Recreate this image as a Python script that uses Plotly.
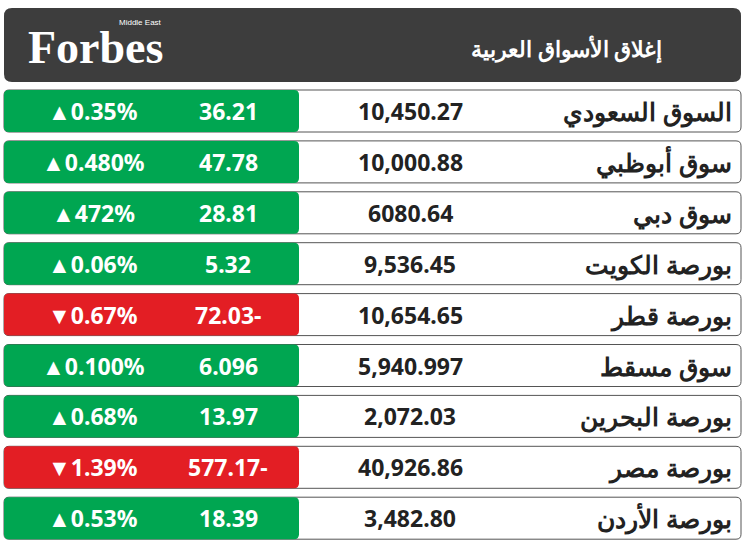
import plotly.graph_objects as go

markets = ["السوق السعودي", "سوق أبوظبي", "سوق دبي", "بورصة الكويت", "بورصة قطر",
           "سوق مسقط", "بورصة البحرين", "بورصة مصر", "بورصة الأردن"]
closes = ["10,450.27", "10,000.88", "6080.64", "9,536.45", "10,654.65",
          "5,940.997", "2,072.03", "40,926.86", "3,482.80"]
changes = ["36.21", "47.78", "28.81", "5.32", "72.03-", "6.096", "13.97", "577.17-", "18.39"]
pcts = ["0.35%", "0.480%", "472%", "0.06%", "0.67%", "0.100%", "0.68%", "1.39%", "0.53%"]
up = [True, True, True, True, False, True, True, False, True]
title = "إغلاق الأسواق العربية"

W, H = 745, 549
GREEN, RED = "#00a651", "#e31e24"

def rrect(x0, y0, x1, y1, r=6):
    return (f"M{x0+r},{y0} L{x1-r},{y0} Q{x1},{y0} {x1},{y0+r} L{x1},{y1-r} Q{x1},{y1} {x1-r},{y1} "
            f"L{x0+r},{y1} Q{x0},{y1} {x0},{y1-r} L{x0},{y0+r} Q{x0},{y0} {x0+r},{y0} Z")

fig = go.Figure()
shapes, ann = [], []
shapes.append(dict(type="path", path=rrect(4, 8, 741, 82, 8), fillcolor="#3d3d3d", line=dict(width=0)))
ann.append(dict(x=26, y=47, text="<b>Forbes</b>", xanchor="left", yanchor="middle", showarrow=False,
                font=dict(family="Liberation Serif", size=46, color="white")))
ann.append(dict(x=164, y=22, text="Middle East", xanchor="right", yanchor="middle", showarrow=False,
                font=dict(family="Liberation Sans Narrow, Liberation Sans", size=8, color="white")))
ann.append(dict(x=664, y=48, text="<b>" + title + "</b>", xanchor="right", yanchor="middle", showarrow=False,
                font=dict(family="Noto Sans", size=22, color="white")))

font = "Noto Sans"
for i in range(len(markets)):
    y0 = 90 + i * 50.9
    y1 = y0 + 42
    yc = (y0 + y1) / 2
    col = GREEN if up[i] else RED
    shapes.append(dict(type="path", path=rrect(4, y0, 741, y1, 5), fillcolor="white",
                       line=dict(color="#555", width=1)))
    shapes.append(dict(type="path", path=rrect(4, y0, 299, y1, 5), fillcolor=col, line=dict(width=0)))
    arrow = "▲" if up[i] else "▼"
    ann.append(dict(x=93, y=yc, text=f"<b>{arrow}{pcts[i]}</b>", showarrow=False,
                    font=dict(family=font, size=23, color="white")))
    ann.append(dict(x=228, y=yc, text=f"<b>{changes[i]}</b>", showarrow=False,
                    font=dict(family=font, size=23, color="white")))
    ann.append(dict(x=410, y=yc, text=f"<b>{closes[i]}</b>", showarrow=False,
                    font=dict(family=font, size=23, color="#222")))
    ann.append(dict(x=734, y=yc, text=f"<b>{markets[i]}</b>", xanchor="right", showarrow=False,
                    font=dict(family=font, size=25, color="#222")))

fig.update_layout(width=W, height=H, margin=dict(l=0, r=0, t=0, b=0),
                  paper_bgcolor="white", plot_bgcolor="white",
                  xaxis=dict(range=[0, W], visible=False, fixedrange=True),
                  yaxis=dict(range=[H, 0], visible=False, fixedrange=True),
                  shapes=shapes, annotations=ann, showlegend=False)
fig.write_html("out.html", config={"displayModeBar": False})
with open("out.html", encoding="utf-8") as f:
    html = f.read()
html = html.replace("<body>", '<body style="margin:0;overflow:hidden">', 1)
with open("out.html", "w", encoding="utf-8") as f:
    f.write(html)
